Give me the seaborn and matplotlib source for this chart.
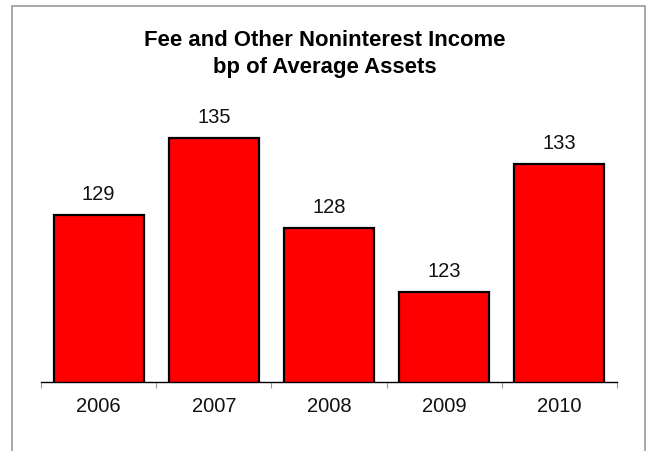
import matplotlib
matplotlib.use("Agg")
import matplotlib.pyplot as plt
import matplotlib.patches as mpatches
import seaborn as sns
import pandas as pd
import numpy as np

# Chart data
years = ["2006", "2007", "2008", "2009", "2010"]
fee_income_bp = [129, 135, 128, 123, 133]
title_lines = ["Fee and Other Noninterest Income", "bp of Average Assets"]

sns.set_theme(style="white")
plt.rcParams["font.family"] = ["Liberation Sans", "DejaVu Sans"]

W, H = 651, 451
fig = plt.figure(figsize=(W / 100, H / 100), dpi=100)
fig.patch.set_facecolor("white")

# Plot area placement (pixel bounds converted to figure fractions)
ax_left, ax_right, ax_bottom, ax_top = 41, 617, 382, 100
ax = fig.add_axes([ax_left / W, 1 - ax_bottom / H,
                   (ax_right - ax_left) / W, (ax_bottom - ax_top) / H])

df = pd.DataFrame({"year": years, "value": fee_income_bp})
sns.barplot(data=df, x="year", y="value", color="#ff0000", saturation=1,
            edgecolor="black", linewidth=1.6, width=0.78, ax=ax)

ax.set_xlim(-0.5, len(years) - 0.5)
ax.set_ylim(116, 138)
ax.set_xlabel("")
ax.set_ylabel("")
ax.set_yticks([])

for side in ["left", "right", "top"]:
    ax.spines[side].set_visible(False)
ax.spines["bottom"].set_color("black")
ax.spines["bottom"].set_linewidth(1.0)

# Category labels centred, separator ticks between categories
ax.set_xticks(range(len(years)))
ax.set_xticklabels(years, fontsize=14.5, color="#111111")
ax.tick_params(axis="x", which="major", length=0, pad=11)
ax.set_xticks(np.arange(-0.5, len(years), 1.0), minor=True)
ax.tick_params(axis="x", which="minor", length=4.5, width=0.8,
               color="#999999", direction="out", bottom=True)

for container in ax.containers:
    ax.bar_label(container, labels=[str(v) for v in fee_income_bp],
                 padding=8, fontsize=14.5, color="#111111")

fig.text(325 / W, 1 - 41 / H, title_lines[0], ha="center", va="center",
         fontsize=15.9, fontweight="bold", color="black")
fig.text(325 / W, 1 - 67 / H, title_lines[1], ha="center", va="center",
         fontsize=15.9, fontweight="bold", color="black")

# Chart-area border (open at the bottom edge)
frame = mpatches.Rectangle((11.5 / W, -0.2), (645 - 11.5) / W, 1.2 - 5.5 / H,
                           transform=fig.transFigure, fill=False,
                           edgecolor="#9a9a9a", linewidth=1.2, clip_on=False)
fig.patches.append(frame)

fig.savefig("out.png", dpi=100, facecolor="white")
